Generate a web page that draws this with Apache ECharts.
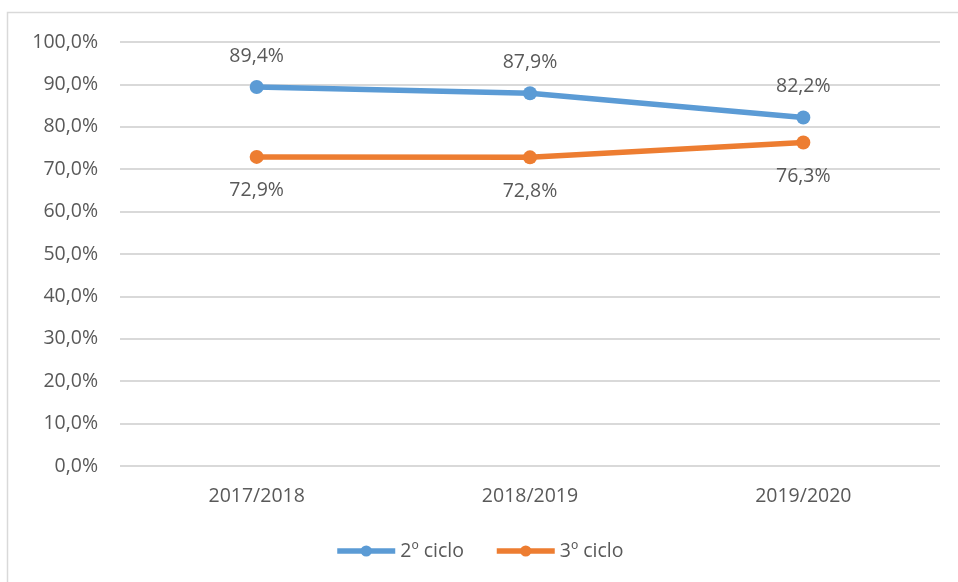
<!DOCTYPE html>
<html>
<head>
<meta charset="utf-8">
<title>Ciclos</title>
<script src="https://cdn.jsdelivr.net/npm/echarts@6/dist/echarts.min.js"></script>
<style>
  html, body { margin: 0; padding: 0; background: #fff; }
  #chart { width: 958px; height: 582px; }
</style>
</head>
<body>
<div id="chart"></div>
<script>
// dados do gráfico
var anos = ['2017/2018', '2018/2019', '2019/2020'];
var ciclo2 = [89.4, 87.9, 82.2];
var ciclo3 = [72.9, 72.8, 76.3];
var nomes = ['2º ciclo', '3º ciclo'];

function pct(v) {
    return v.toFixed(1).replace('.', ',') + '%';
}

var font = 'Open Sans';
var cinza = '#595959';

var chart = echarts.init(document.getElementById('chart'));
chart.setOption({
    animation: false,
    textStyle: { fontFamily: font },
    graphic: [{
        type: 'rect',
        shape: { x: 7.5, y: 12.5, width: 1000, height: 1000 },
        style: { fill: 'none', stroke: '#d9d9d9', lineWidth: 1.5 },
        silent: true
    }],
    grid: { left: 120, right: 18, top: 42, bottom: 116, containLabel: false },
    legend: {
        bottom: 16,
        left: 'center',
        itemWidth: 58,
        itemHeight: 14,
        itemGap: 30,
        lineStyle: { width: 5.5 },
        textStyle: { color: cinza, fontSize: 19.5, fontFamily: font },
        data: nomes
    },
    xAxis: {
        type: 'category',
        data: anos,
        axisLine: { show: false },
        axisTick: { show: false },
        axisLabel: { color: cinza, fontSize: 19.5, margin: 20 }
    },
    yAxis: {
        type: 'value',
        min: 0,
        max: 100,
        interval: 10,
        axisLine: { show: false },
        axisTick: { show: false },
        splitLine: { lineStyle: { color: '#d9d9d9', width: 2 } },
        axisLabel: {
            color: cinza,
            fontSize: 19.5,
            margin: 22,
            formatter: function (v) { return pct(v); }
        }
    },
    series: [{
        name: nomes[0],
        type: 'line',
        data: ciclo2,
        symbol: 'circle',
        symbolSize: 14,
        color: '#5b9bd5',
        lineStyle: { width: 5.5 },
        label: {
            show: true,
            position: 'top',
            distance: 14,
            color: cinza,
            fontSize: 19.5,
            formatter: function (p) { return pct(p.value); }
        }
    }, {
        name: nomes[1],
        type: 'line',
        data: ciclo3,
        symbol: 'circle',
        symbolSize: 14,
        color: '#ed7d31',
        lineStyle: { width: 5.5 },
        label: {
            show: true,
            position: 'bottom',
            distance: 17,
            color: cinza,
            fontSize: 19.5,
            formatter: function (p) { return pct(p.value); }
        }
    }]
});
</script>
</body>
</html>
